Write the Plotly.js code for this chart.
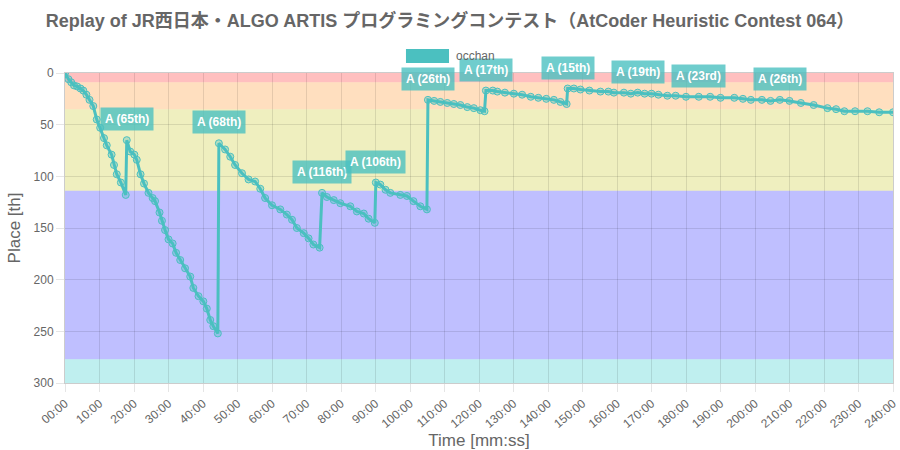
<!DOCTYPE html>
<html>
<head>
<meta charset="utf-8">
<script src="https://cdn.plot.ly/plotly-3.0.1.min.js"></script>
<style>html,body{margin:0;padding:0;background:#fff;}#chart{width:900px;height:450px;}</style>
</head>
<body>
<div id="chart"></div>
<script>
// Elapsed time in minutes and place (rank) of the contestant
const times = [
  0,1,1.8,2.6,3.5,4.5,5.3,6.2,7.1,8.2,9.2,10.2,11.3,12.1,13.5,14.2,15,16.2,17.6,
  17.9,18.9,20.1,20.8,21.9,22.9,24.2,25.4,26.1,27.4,28.1,29,30,31.2,32.2,33.4,34.8,36.3,37.2,38.7,40.1,41.1,42.1,43,44.3,
  44.6,46.4,47.9,49.3,51.3,53.2,55.1,56.6,58,60,62.4,64.3,65.8,67.2,69.2,70.6,72,73.8,
  74.5,75.9,77.9,79.8,82.7,84.6,86.6,88,89.8,
  90.1,91.4,92.9,94.3,97.2,99.1,101,103,104.9,
  105.2,107,108.8,110.8,112.7,114.6,116.6,118.5,120.4,121.6,
  122,124,125.3,127.5,130.1,132.5,135,137.2,139.5,141.7,143.6,145.4,
  145.7,147.5,149.4,152,155.2,157.5,159.1,162,164,166,168,170,172,174.6,177,180,183.7,187,190,194,196.5,198.8,202,204.5,207.2,210,213.3,217,221,223.5,225.9,229,232.6,236,240
];
const places = [
  0,6,9,12,13,15,17,21,26,32,45,53,63,70,79,89,98,106,118,
  65,76,79,84,98,107,116,121,124,135,143,152,161,165,174,181,189,197,208,216,221,228,239,245,252,
  68,74,81,89,97,103,105,112,121,128,132,137,142,150,155,160,166,169,
  116,120,123,126,129,134,136,141,145,
  106,108,113,116,118,119,124,129,132,
  26,27,28,29,30,31,33,34,36,37,
  17,17,18,19,20,21,23,24,25,26,28,30,
  15,15,16,17,18,18,19,19,20,19,20,20,21,22,22,23,23,23,24,24,25,26,26,27,26,27,29,31,34,35,37,37,37,38,38
];

// Submission labels
const annTimes  = [17.9, 44.6, 74.5, 90.1, 105.2, 122, 145.7, 166, 183.7, 207.2];
const annPlaces = [65, 68, 116, 106, 26, 17, 15, 19, 23, 26];
const annLabels = ['A (65th)','A (68th)','A (116th)','A (106th)','A (26th)','A (17th)','A (15th)','A (19th)','A (23rd)','A (26th)'];

// Tick labels
const tickMinutes = [0,10,20,30,40,50,60,70,80,90,100,110,120,130,140,150,160,170,180,190,200,210,220,230,240];
const tickLabels = ['00:00','10:00','20:00','30:00','40:00','50:00','60:00','70:00','80:00','90:00','100:00','110:00','120:00','130:00','140:00','150:00','160:00','170:00','180:00','190:00','200:00','210:00','220:00','230:00','240:00'];

// Colour bands (place boundaries)
const bandEdges  = [0, 9, 35, 114, 277, 300];
const bandColors = ['rgba(255,0,0,0.25)','rgba(255,128,0,0.25)','rgba(192,192,0,0.25)','rgba(0,0,255,0.25)','rgba(0,192,192,0.25)'];

const teal = 'rgb(75,192,192)';
const font = 'Liberation Sans, Arial, Helvetica, "Noto Sans CJK JP", sans-serif';

const shapes = bandColors.map((c, i) => ({
  type: 'rect', xref: 'paper', yref: 'y', x0: 0, x1: 1,
  y0: bandEdges[i], y1: bandEdges[i + 1], fillcolor: c, line: {width: 0}, layer: 'below'
}));
// legend swatch
shapes.push({type: 'rect', xref: 'paper', yref: 'paper', x0: 0.4118, x1: 0.4638, y0: 1.0323, y1: 1.0774,
  fillcolor: teal, line: {width: 0}});

const annotations = annTimes.map((t, i) => ({
  x: t, y: annPlaces[i], text: '<b>' + annLabels[i] + '</b>', showarrow: false,
  xanchor: 'center', yanchor: 'bottom', yshift: 9,
  bgcolor: 'rgba(75,192,192,0.8)', borderpad: 4,
  font: {family: font, size: 12, color: '#fff'}
}));
annotations.push({xref: 'paper', yref: 'paper', x: 0.4698, y: 1.0548, xanchor: 'left', yanchor: 'middle',
  text: 'occhan', showarrow: false, font: {family: font, size: 12, color: '#666'}});

const trace = {
  x: times, y: places, type: 'scatter', mode: 'lines+markers', name: 'occhan',
  line: {color: teal, width: 3},
  marker: {size: 7, color: 'rgba(75,192,192,0.35)', line: {color: teal, width: 1}},
  showlegend: false, hoverinfo: 'x+y'
};

const layout = {
  width: 900, height: 450,
  margin: {l: 65, r: 7, t: 73, b: 67},
  paper_bgcolor: '#fff', plot_bgcolor: 'rgba(0,0,0,0)',
  font: {family: font, color: '#666'},
  title: {text: '<b>Replay of JR西日本・ALGO ARTIS プログラミングコンテスト（AtCoder Heuristic Contest 064）</b>',
    x: 0.5, xanchor: 'center', y: 0.955, yanchor: 'middle', font: {family: font, size: 18, color: '#666'}},
  xaxis: {
    range: [0, 240], tickvals: tickMinutes, ticktext: tickLabels, tickangle: -40,
    showgrid: true, gridcolor: 'rgba(0,0,0,0.1)', zeroline: false,
    ticks: 'outside', ticklen: 8, tickcolor: 'rgba(0,0,0,0.1)',
    showline: true, linecolor: 'rgba(0,0,0,0.2)', mirror: true,
    tickfont: {size: 12, color: '#666'}, automargin: false,
    title: {text: 'Time [mm:ss]', font: {size: 17, color: '#666'}, standoff: 5}
  },
  yaxis: {
    range: [300, 0], tickvals: [0,50,100,150,200,250,300],
    showgrid: true, gridcolor: 'rgba(0,0,0,0.1)', zeroline: false,
    ticks: 'outside', ticklen: 8, tickcolor: 'rgba(0,0,0,0.1)',
    showline: true, linecolor: 'rgba(0,0,0,0.2)', mirror: true,
    tickfont: {size: 12, color: '#666'}, automargin: false,
    title: {text: 'Place [th]', font: {size: 17, color: '#666'}, standoff: 8}
  },
  shapes: shapes,
  annotations: annotations,
  showlegend: false
};

Plotly.newPlot('chart', [trace], layout, {displayModeBar: false, staticPlot: true});
</script>
</body>
</html>
